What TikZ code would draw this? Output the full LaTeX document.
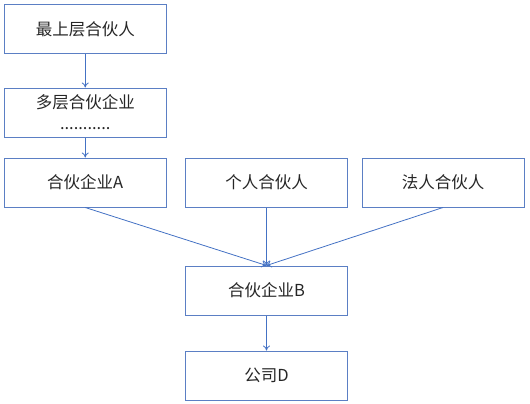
\documentclass[tikz,border=0pt]{standalone}
\usepackage{fontspec}
\setmainfont{Noto Sans CJK SC}
\usetikzlibrary{arrows.meta}
\definecolor{boxblue}{HTML}{5B7FC4}
\definecolor{arrowblue}{HTML}{4472C4}
\begin{document}
\begin{tikzpicture}[x=1pt,y=-1pt,
  box/.style={draw=boxblue,line width=1pt,minimum width=162pt,minimum height=49pt,inner sep=0pt,
    font=\fontsize{16.5}{23}\selectfont,text=black!85,align=center},
  conn/.style={draw=arrowblue,line width=0.8pt,-{To[length=5pt,width=7pt]}}]
\useasboundingbox (0,0) rectangle (530,404);
\node[box] (top) at (85.25,29.5) {最上层合伙人};
\node[box] (multi) at (85.25,112.5) {多层合伙企业\\[-2pt]...........};
\node[box] (A) at (85.25,182.5) {合伙企业A};
\node[box] (ind) at (266.5,182.5) {个人合伙人};
\node[box] (corp) at (443,182.5) {法人合伙人};
\node[box] (B) at (266.5,290.5) {合伙企业B};
\node[box] (D) at (266.5,375.5) {公司D};
\draw[conn] (top.south) -- (multi.north);
\draw[conn] (multi.south) -- (A.north);
\draw[conn] (A.south) -- (B.north);
\draw[conn] (ind.south) -- (B.north);
\draw[conn] (corp.south) -- (B.north);
\draw[conn] (B.south) -- (D.north);
\end{tikzpicture}
\end{document}
